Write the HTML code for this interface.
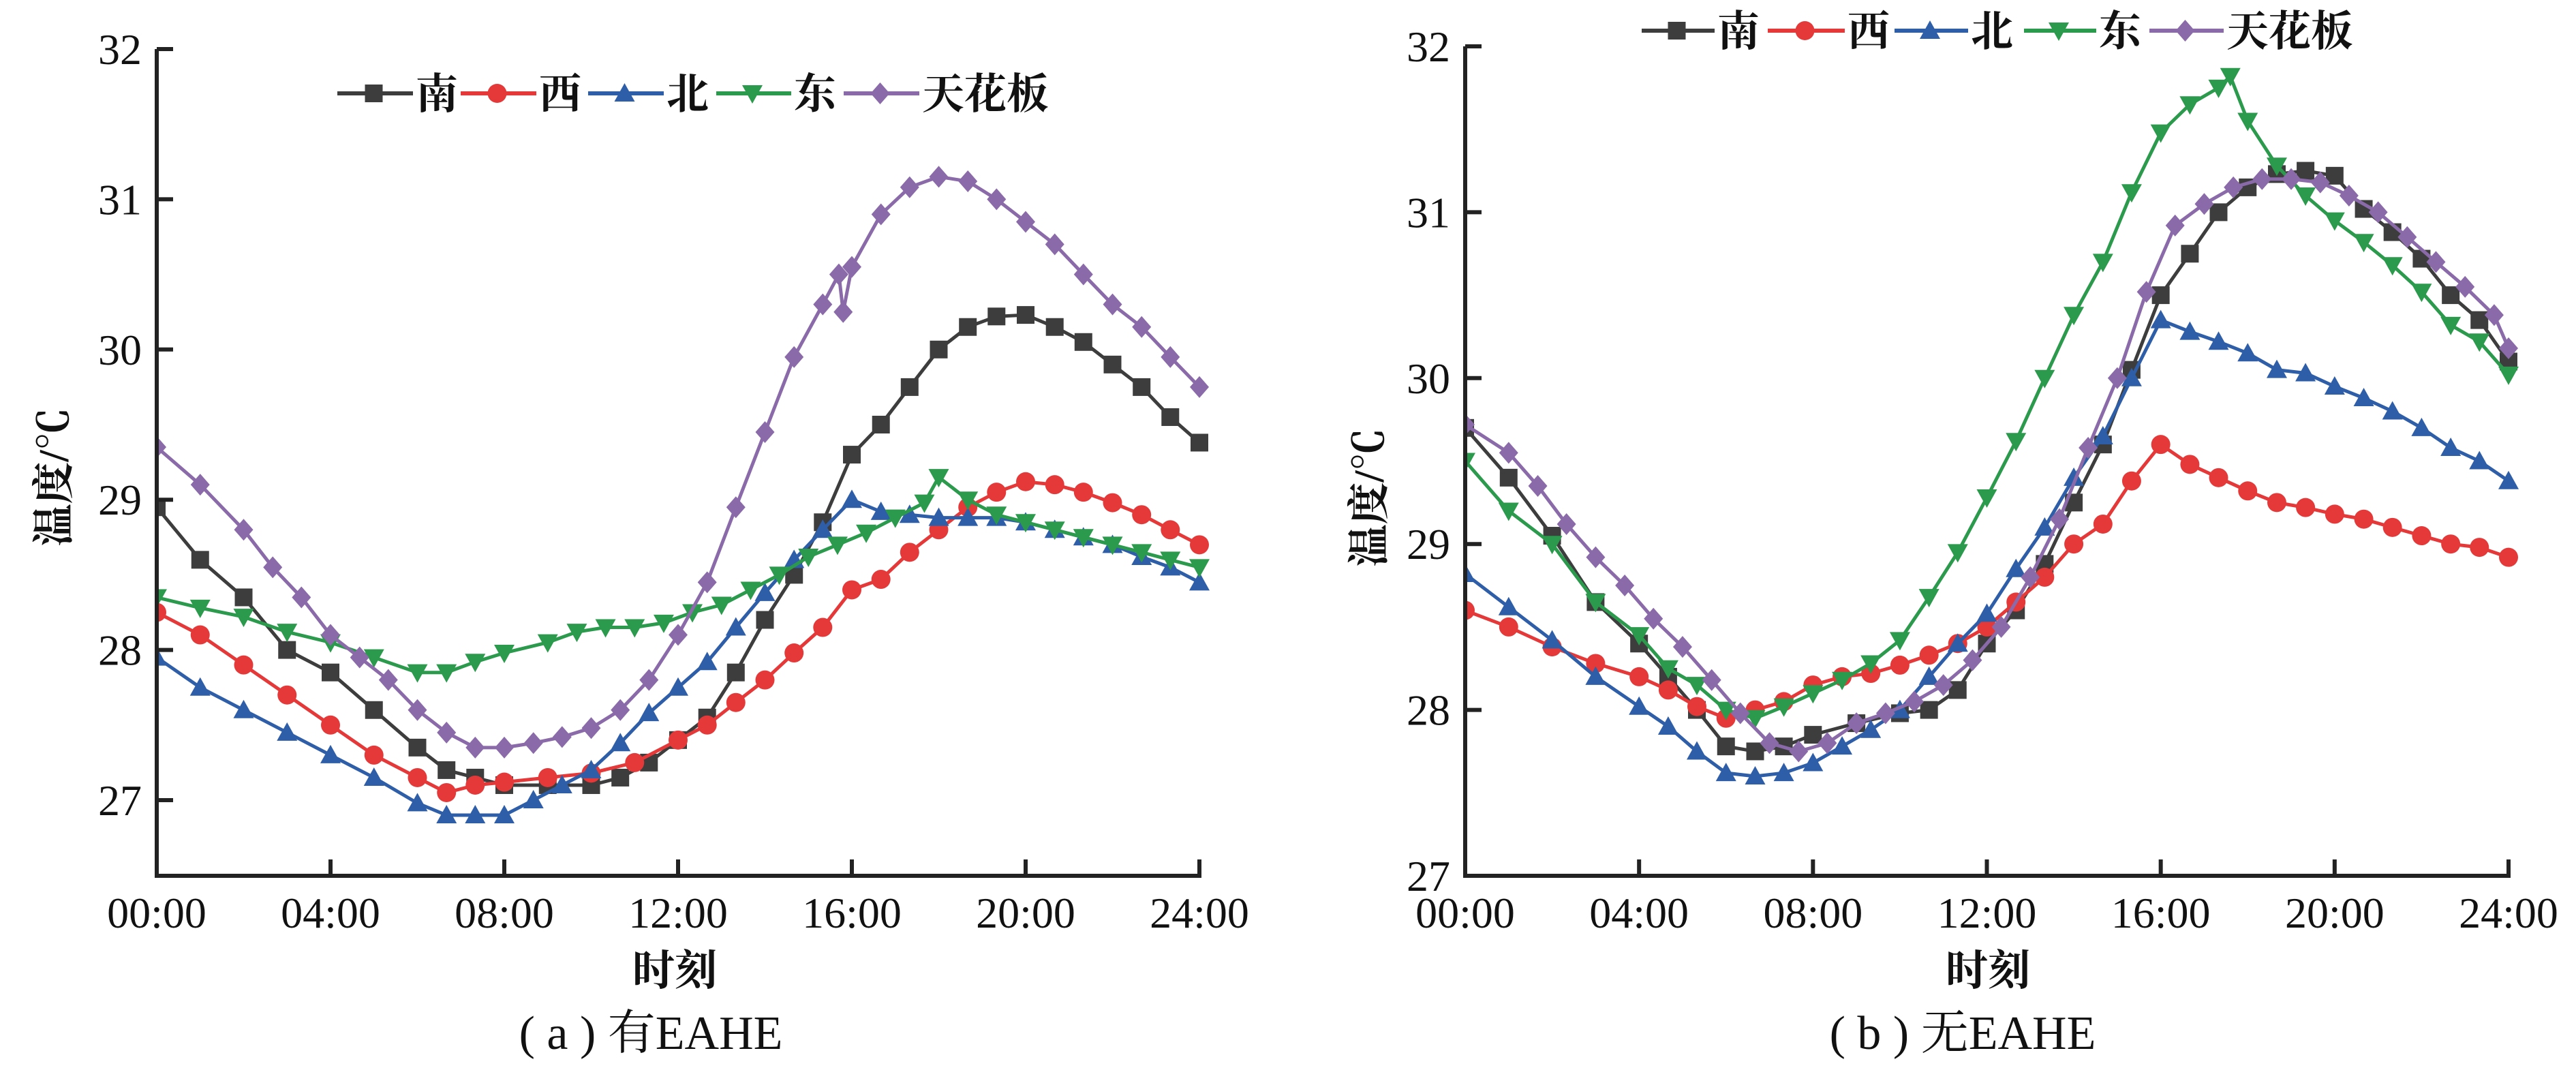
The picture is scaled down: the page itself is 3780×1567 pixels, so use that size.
<!DOCTYPE html>
<html><head><meta charset="utf-8">
<style>html,body{margin:0;padding:0;background:#fff;}svg{display:block}</style>
</head><body>
<svg id="s" width="3780" height="1567" xmlns="http://www.w3.org/2000/svg" font-family="'Liberation Serif','Noto Serif CJK SC',serif">
<rect width="3780" height="1567" fill="#fff"/>
<g id="g"></g>
</svg>
<script>
const C={n:'#3d3d3d',w:'#e53838',b:'#2f5ea8',e:'#2b9a4c',c:'#8a6aa8'};
const A={
n:[[0,28.95],[1,28.6],[2,28.35],[3,28.0],[4,27.85],[5,27.6],[6,27.35],[6.67,27.2],[7.33,27.15],[8,27.1],[9,27.1],[10,27.1],[10.67,27.15],[11.33,27.25],[12,27.4],[12.67,27.55],[13.33,27.85],[14,28.2],[14.67,28.5],[15.33,28.85],[16,29.3],[16.67,29.5],[17.33,29.75],[18,30.0],[18.67,30.15],[19.33,30.22],[20,30.23],[20.67,30.15],[21.33,30.05],[22,29.9],[22.67,29.75],[23.33,29.55],[24,29.38]],
w:[[0,28.25],[1,28.1],[2,27.9],[3,27.7],[4,27.5],[5,27.3],[6,27.15],[6.67,27.05],[7.33,27.1],[8,27.12],[9,27.15],[10,27.18],[11,27.25],[12,27.4],[12.67,27.5],[13.33,27.65],[14,27.8],[14.67,27.98],[15.33,28.15],[16,28.4],[16.67,28.47],[17.33,28.65],[18,28.8],[18.67,28.95],[19.33,29.05],[20,29.12],[20.67,29.1],[21.33,29.05],[22,28.98],[22.67,28.9],[23.33,28.8],[24,28.7]],
b:[[0,27.95],[1,27.75],[2,27.6],[3,27.45],[4,27.3],[5,27.15],[6,26.98],[6.67,26.9],[7.33,26.9],[8,26.9],[8.67,27.0],[9.33,27.1],[10,27.2],[10.67,27.38],[11.33,27.58],[12,27.75],[12.67,27.92],[13.33,28.15],[14,28.38],[14.67,28.6],[15.33,28.8],[16,29.0],[16.67,28.92],[17.33,28.9],[18,28.88],[18.67,28.88],[19.33,28.88],[20,28.85],[20.67,28.8],[21.33,28.75],[22,28.7],[22.67,28.62],[23.33,28.55],[24,28.45]],
e:[[0,28.35],[1,28.28],[2,28.22],[3,28.12],[4,28.05],[5,27.95],[6,27.85],[6.67,27.85],[7.33,27.92],[8,27.98],[9,28.05],[9.67,28.12],[10.33,28.15],[11,28.15],[11.67,28.18],[12.33,28.25],[13,28.3],[13.67,28.4],[14.33,28.5],[15,28.62],[15.67,28.7],[16.33,28.78],[17,28.88],[17.67,28.98],[18,29.15],[18.67,29.0],[19.33,28.9],[20,28.85],[20.67,28.8],[21.33,28.75],[22,28.7],[22.67,28.65],[23.33,28.6],[24,28.55]],
c:[[0,29.35],[1,29.1],[2,28.8],[2.67,28.55],[3.33,28.35],[4,28.1],[4.67,27.95],[5.33,27.8],[6,27.6],[6.67,27.45],[7.33,27.35],[8,27.35],[8.67,27.38],[9.33,27.42],[10,27.48],[10.67,27.6],[11.33,27.8],[12,28.1],[12.67,28.45],[13.33,28.95],[14,29.45],[14.67,29.95],[15.33,30.3],[15.7,30.5],[15.8,30.25],[16,30.55],[16.67,30.9],[17.33,31.08],[18,31.15],[18.67,31.12],[19.33,31.0],[20,30.85],[20.67,30.7],[21.33,30.5],[22,30.3],[22.67,30.15],[23.33,29.95],[24,29.75]]};
const B={
n:[[0,29.7],[1,29.4],[2,29.05],[3,28.65],[4,28.4],[4.67,28.2],[5.33,28.0],[6,27.78],[6.67,27.75],[7.33,27.78],[8,27.85],[9,27.92],[10,27.98],[10.67,28.0],[11.33,28.12],[12,28.4],[12.67,28.6],[13.33,28.88],[14,29.25],[14.67,29.6],[15.33,30.05],[16,30.5],[16.67,30.75],[17.33,31.0],[18,31.15],[18.67,31.23],[19.33,31.25],[20,31.22],[20.67,31.02],[21.33,30.88],[22,30.72],[22.67,30.5],[23.33,30.35],[24,30.1]],
w:[[0,28.6],[1,28.5],[2,28.38],[3,28.28],[4,28.2],[4.67,28.12],[5.33,28.02],[6,27.95],[6.67,28.0],[7.33,28.05],[8,28.15],[8.67,28.2],[9.33,28.22],[10,28.27],[10.67,28.33],[11.33,28.4],[12,28.5],[12.67,28.65],[13.33,28.8],[14,29.0],[14.67,29.12],[15.33,29.38],[16,29.6],[16.67,29.48],[17.33,29.4],[18,29.32],[18.67,29.25],[19.33,29.22],[20,29.18],[20.67,29.15],[21.33,29.1],[22,29.05],[22.67,29.0],[23.33,28.98],[24,28.92]],
b:[[0,28.82],[1,28.62],[2,28.42],[3,28.2],[4,28.02],[4.67,27.9],[5.33,27.75],[6,27.62],[6.67,27.6],[7.33,27.62],[8,27.68],[8.67,27.78],[9.33,27.88],[10,28.0],[10.67,28.2],[11.33,28.4],[12,28.58],[12.67,28.85],[13.33,29.1],[14,29.4],[14.67,29.65],[15.33,30.0],[16,30.35],[16.67,30.28],[17.33,30.22],[18,30.15],[18.67,30.05],[19.33,30.03],[20,29.95],[20.67,29.88],[21.33,29.8],[22,29.7],[22.67,29.58],[23.33,29.5],[24,29.38]],
e:[[0,29.5],[1,29.2],[2,29.0],[3,28.65],[4,28.45],[4.67,28.25],[5.33,28.15],[6,28.0],[6.67,27.95],[7.33,28.02],[8,28.1],[8.67,28.18],[9.33,28.28],[10,28.42],[10.67,28.68],[11.33,28.95],[12,29.28],[12.67,29.62],[13.33,30.0],[14,30.38],[14.67,30.7],[15.33,31.12],[16,31.48],[16.67,31.65],[17.33,31.75],[17.6,31.82],[18,31.55],[18.67,31.28],[19.33,31.1],[20,30.95],[20.67,30.82],[21.33,30.68],[22,30.52],[22.67,30.32],[23.33,30.22],[24,30.02]],
c:[[0,29.72],[1,29.55],[1.67,29.35],[2.33,29.12],[3,28.92],[3.67,28.75],[4.33,28.55],[5,28.38],[5.67,28.18],[6.33,27.98],[7,27.8],[7.67,27.75],[8.33,27.8],[9,27.92],[9.67,27.98],[10.33,28.05],[11,28.15],[11.67,28.3],[12.33,28.5],[13,28.8],[13.67,29.15],[14.33,29.58],[15,30.0],[15.67,30.52],[16.33,30.92],[17,31.05],[17.67,31.15],[18.33,31.2],[19,31.2],[19.67,31.18],[20.33,31.1],[21,31.0],[21.67,30.85],[22.33,30.7],[23,30.55],[23.67,30.38],[24,30.18]]};
let h='';
function mk(k,x,y){const c=C[k];
 if(k=='n')return `<rect x="${x-13}" y="${y-13}" width="26" height="26" fill="${c}"/>`;
 if(k=='w')return `<circle cx="${x}" cy="${y}" r="14" fill="${c}"/>`;
 if(k=='b')return `<polygon points="${x},${y-15} ${x+15},${y+12} ${x-15},${y+12}" fill="${c}"/>`;
 if(k=='e')return `<polygon points="${x},${y+15} ${x+15},${y-12} ${x-15},${y-12}" fill="${c}"/>`;
 return `<polygon points="${x},${y-16} ${x+14},${y} ${x},${y+16} ${x-14},${y}" fill="${c}"/>`;}
function panel(D,x0,x1,y32,unit,ybot,ymin,legX,legT,legY,ylab,titleX,cap){
 const X=t=>x0+(x1-x0)*t/24, Y=v=>y32+(32-v)*unit;
 h+=`<defs><clipPath id="c${x0}"><rect x="${x0}" y="0" width="${x1-x0+20}" height="${ybot}"/></clipPath></defs>`;
 for(const k of ['n','w','b','e','c']){const d=D[k];
  h+=`<g clip-path="url(#c${x0})"><polyline fill="none" stroke="${C[k]}" stroke-width="5" points="${d.map(p=>X(p[0]).toFixed(1)+','+Y(p[1]).toFixed(1)).join(' ')}"/>`;
  d.forEach(p=>{h+=mk(k,X(p[0]),Y(p[1]));});h+='</g>';}
 h+=`<path d="M${x0},${y32} V${ybot} H${x1} V${ybot-24}" fill="none" stroke="#222" stroke-width="6"/>`;
 for(let v=ymin;v<=32;v++){const y=Y(v);h+=`<line x1="${x0}" y1="${y}" x2="${x0+24}" y2="${y}" stroke="#222" stroke-width="6"/><text x="${x0-22}" y="${y+22}" font-size="64" text-anchor="end" fill="#111">${v}</text>`;}
 for(let i=0;i<=6;i++){const x=X(i*4);if(i>0&&i<6)h+=`<line x1="${x}" y1="${ybot}" x2="${x}" y2="${ybot-24}" stroke="#222" stroke-width="6"/>`;
  h+=`<text x="${x}" y="${ybot+76}" font-size="64" text-anchor="middle" fill="#111">${String(i*4).padStart(2,'0')}:00</text>`;}
 const names=['南','西','北','东','天花板'],ks=['n','w','b','e','c'];
 for(let i=0;i<5;i++){const a=legX[i],t=legT[i];
  h+=`<line x1="${a}" y1="${legY}" x2="${t-4}" y2="${legY}" stroke="${C[ks[i]]}" stroke-width="6"/>`+mk(ks[i],(a+t)/2-4,legY);
  h+=`<text x="${t}" y="${legY+22}" font-size="62" font-weight="bold" fill="#111">${names[i]}</text>`;}
 h+=`<text transform="translate(${ylab[0]},${ylab[1]}) rotate(-90)" font-size="62" font-weight="bold" text-anchor="middle" fill="#111">温度/℃</text>`;
 h+=`<text x="${titleX[0]}" y="${ybot+160}" font-size="62" font-weight="bold" text-anchor="middle" fill="#111">时刻</text>`;
 h+=`<text x="${titleX[1]}" y="${ybot+254}" font-size="70" text-anchor="middle" fill="#111">${cap}</text>`;
}
panel(A,230,1760,72,220.4,1285,27,[495,676,863,1051,1238],[610,791,978,1165,1353],137,[100,700],[990,955],'( a ) 有EAHE');
panel(B,2150,3681,68,243.4,1285,27,[2409,2594,2780,2970,3154],[2520,2711,2892,3080,3267],45,[2030,730],[2917,2880],'( b ) 无EAHE');
document.getElementById('g').innerHTML=h;
</script>
</body></html>
